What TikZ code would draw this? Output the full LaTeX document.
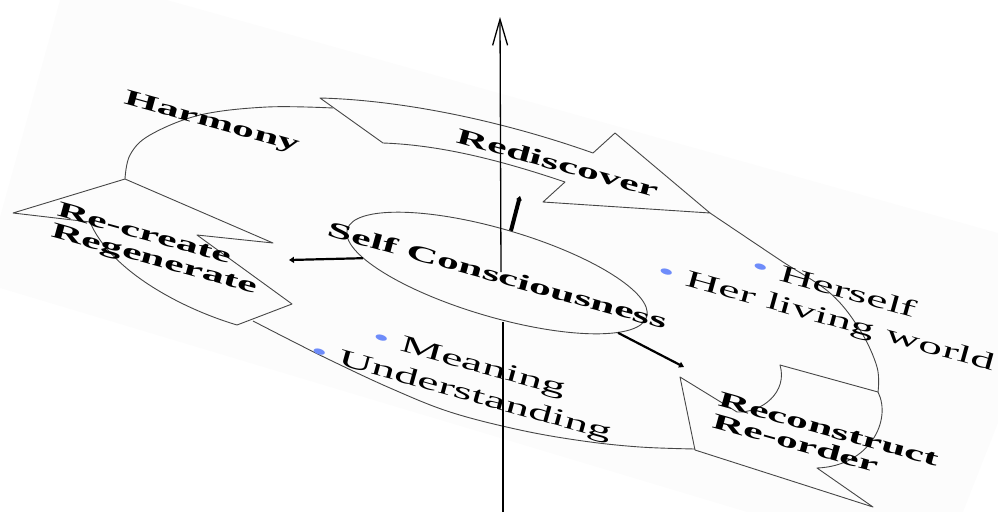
\documentclass[tikz,border=0pt]{standalone}
\usepackage{fontspec}
\setmainfont{Liberation Serif}
\usetikzlibrary{arrows.meta,shapes.geometric}
\definecolor{bulletblue}{RGB}{110,140,250}
\definecolor{rimgray}{RGB}{70,70,70}
\definecolor{pagetint}{RGB}{252,252,252}
\newcommand{\bul}{{\color{bulletblue}\textbullet}\ }
\begin{document}
\begin{tikzpicture}[x=1pt,y=-1pt,
    rim/.style={draw=rimgray,line width=0.9pt,line join=round},
    cyclelabel/.style={font=\fontsize{22}{22}\selectfont\bfseries,align=left,
      rotate=-15.5,xscale=2,inner sep=0pt},
    bulletlabel/.style={font=\fontsize{24}{30}\selectfont,align=center,
      rotate=-15.5,xscale=2,inner sep=0pt},
    pointer/.style={line width=2.2pt,-{Triangle[length=5pt,width=6pt]}}]
  \useasboundingbox (0,0) rectangle (998,512);
  \fill[pagetint] (60,0) -- (167,0) -- (998,233) -- (998,423) -- (963,512)
    -- (747,512) -- (0,288) -- (0,217) -- cycle;
  \draw[rim] plot[smooth,tension=0.6] coordinates
    {(125,179) (130,155) (150,135) (200,115) (267,107) (333,108)};
  \draw[rim] plot[smooth,tension=0.6] coordinates
    {(710,213) (780,260) (830,293) (860,330) (877,367) (878,392)};
  \draw[rim] plot[smooth,tension=0.6] coordinates
    {(253,321) (290,340) (330,360) (390,388) (450,412) (520,430) (583,441) (640,447) (695,449)};
  \draw[rim] (320,98) .. controls (400,100) and (500,120) .. (593,153) -- (615,133)
    -- (710,213) -- (543,202) -- (565,182) .. controls (500,160) and (440,145) .. (383,143)
    -- cycle;
  \draw[rim] (780,365) -- (878,392) .. controls (892,420) and (870,466) .. (817,468)
    -- (873,507) -- (695,450) -- (680,377) -- (737,412)
    .. controls (762,413) and (788,392) .. (780,365) -- cycle;
  \draw[rim] (125,179) -- (273,243) -- (197,235) -- (292,304) -- (237,325)
    .. controls (180,308) and (110,270) .. (90,222) -- (13,213) -- cycle;
  \node[rim,ellipse,minimum width=312pt,minimum height=88pt,inner sep=0pt,
    rotate=-16.3] (selfring) at (497,273) {};
  \node[cyclelabel] (selfc) at (498,275) {Self Consciousness};
  \node[cyclelabel] (harmony) at (212,123) {Harmony};
  \node[cyclelabel] (rediscover) at (558,163) {Rediscover};
  \node[cyclelabel] (recreate) at (157,250) {Re-create\\Regenerate};
  \node[cyclelabel] (reconstruct) at (826,440) {Reconstruct\\Re-order};
  \node[bulletlabel] (herself) at (830,304) {\bul Herself\\\bul Her living world};
  \node[bulletlabel] (meaning) at (465,379) {\bul Meaning\\\bul Understanding};
  \coordinate (upend) at (520,196);
  \coordinate (leftend) at (289,260);
  \coordinate (rightend) at (684,367);
  \draw[pointer,line width=4pt,-{Triangle[length=4pt,width=5.5pt]}] (selfring.88) -- (upend);
  \draw[pointer] (selfring.190) -- (leftend);
  \draw[pointer] (selfring.350) -- (rightend);
  \coordinate (axisfoot) at (503,512);
  \coordinate (axislow) at (503,322);
  \coordinate (axishigh) at (501,272);
  \coordinate (axistop) at (500,17);
  \draw[line width=1.3pt] (axisfoot) -- (axislow);
  \draw[line width=1.3pt,-{Straight Barb[length=26pt,width=15pt]}] (axishigh) -- (axistop);
\end{tikzpicture}
\end{document}
